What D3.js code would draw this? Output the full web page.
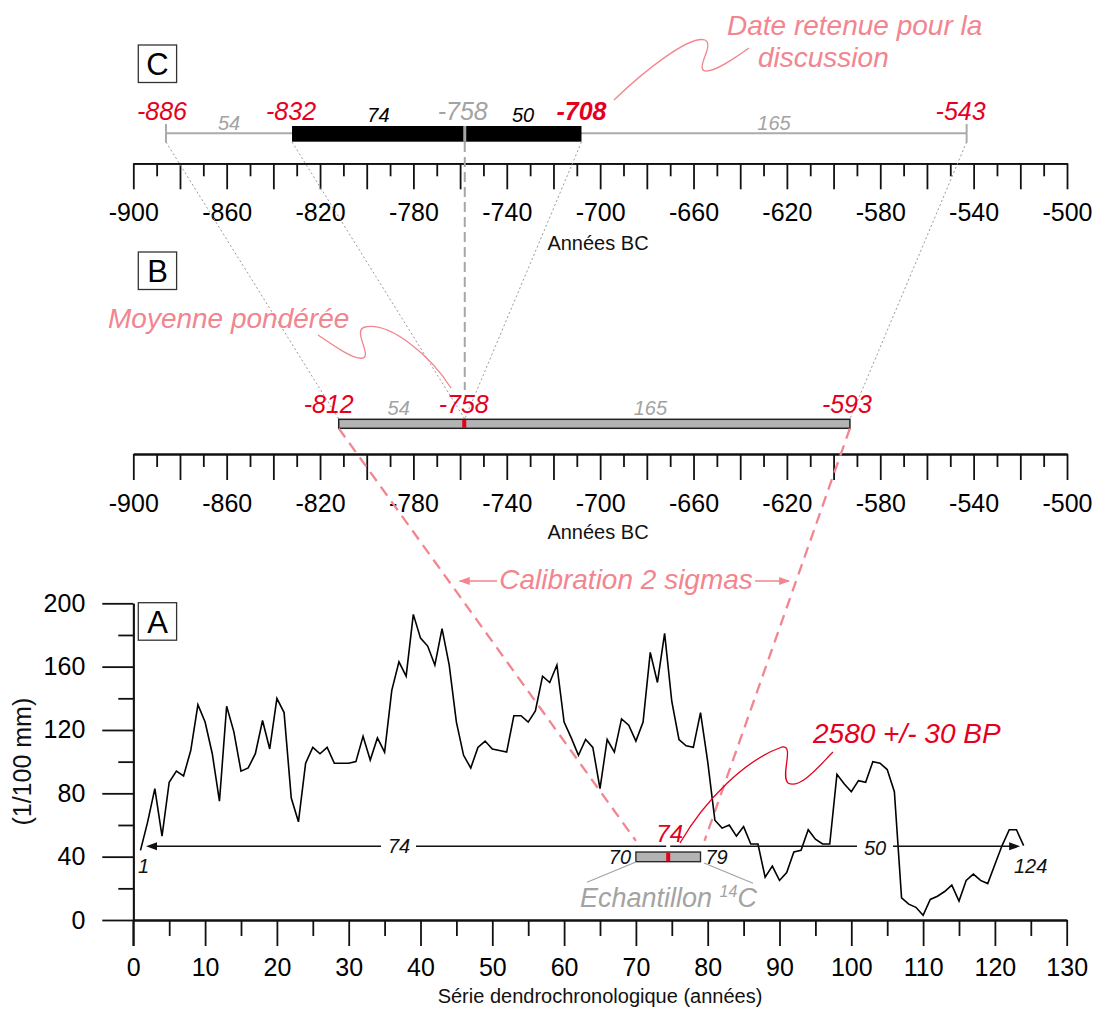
<html>
<head>
<meta charset="utf-8">
<script src="https://d3js.org/d3.v7.min.js"></script>
<style>
body { margin: 0; background: #fff; }
</style>
</head>
<body>
<div id="chart"></div>
<script>
// ring widths (1/100 mm) for rings 1..124 of the series
const ringWidths = [44,62,83,53,87,94,91,107,136,125,
  105,75,135,119,94,96,105,126,108,140,
  131,77,62,99,109,105,109,99,99,99,
  100,116,101,115,106,145,163,154,193,178,
  173,161,184,161,125,104,96,109,113,108,
  107,106,129,129,125,132,154,150,161,125,
  115,104,114,109,83,114,106,127,123,113,
  125,169,150,181,138,114,110,109,131,100,
  63,58,60,53,59,48,48,27,34,25,
  30,43,44,57,51,48,48,92,86,81,
  88,87,100,99,95,81,14,10,8,3,
  13,15,18,22,12,25,29,25,23,35,
  47,57,57,47];

const yearDomain = [-900, -500];
const cDates = [-886, -832, -758, -708, -543];   // C: range, retained range, mean
const cSpans = [54, 74, 50, 165];
const bDates = [-812, -758, -593];               // B: 2 sigma calibration + mean
const bSpans = [54, 165];
const seriesEnds = [1, 124];
const sampleRings = [70, 79];
const dateRing = 74;
const ringCounts = [74, 50];
const ringTicks = d3.range(0, 131, 10);
const widthTicks = d3.range(0, 201, 40);

const W = 1097, H = 1012;
const font = '"Liberation Sans", Arial, sans-serif';
const red = "#e6001e", pink = "#f2858f", grey = "#a3a3a3";
const noteSize = 28;

const svg = d3.select("#chart").append("svg")
  .attr("width", W).attr("height", H)
  .style("font-family", font);

const xTime = d3.scaleLinear().domain(yearDomain).range([133.3, 1067]);
const xRing = d3.scaleLinear().domain([0, 130]).range([133.3, 1066.7]);
const yRing = d3.scaleLinear().domain([0, 200]).range([920, 603.3]);

function txt(x, y, s, size, color, anchor, italic, bold) {
  return svg.append("text").attr("x", x).attr("y", y).text(s)
    .attr("font-size", size).attr("fill", color || "#000")
    .attr("text-anchor", anchor || "middle")
    .attr("font-style", italic ? "italic" : "normal")
    .attr("font-weight", bold ? "bold" : "normal");
}
function seg(x1, y1, x2, y2, color, w, dash) {
  return svg.append("line").attr("x1", x1).attr("y1", y1).attr("x2", x2).attr("y2", y2)
    .attr("stroke", color).attr("stroke-width", w).attr("stroke-dasharray", dash || null);
}
function arrowHead(x, y, dir, color) {
  svg.append("path")
    .attr("d", `M${x},${y}L${x - dir * 11},${y - 4}L${x - dir * 11},${y + 4}Z`)
    .attr("fill", color);
}
function styleAxis(g) {
  g.attr("font-size", 25).attr("font-family", font);
  g.selectAll("line").attr("stroke", "#111").attr("stroke-width", 1.8);
  g.selectAll("path").attr("stroke", "#111").attr("stroke-width", 1.8);
}

// boxes A B C
[["C", 45], ["B", 252], ["A", 602.7]].forEach(b => {
  svg.append("rect").attr("x", 138.3).attr("y", b[1]).attr("width", 38.3).attr("height", 37.5)
    .attr("fill", "#fff").attr("stroke", "#333").attr("stroke-width", 1.3);
  txt(157.5, b[1] + 30, b[0], 31, "#000");
});

// year axes (C and B)
function yearAxis(y, titleY) {
  const g1 = svg.append("g").attr("transform", `translate(0,${y})`)
    .call(d3.axisBottom(xTime).tickValues(d3.range(-890, -500, 20)).tickSize(13).tickSizeOuter(0).tickFormat(""));
  const g2 = svg.append("g").attr("transform", `translate(0,${y})`)
    .call(d3.axisBottom(xTime).tickValues(d3.range(-900, -499, 20)).tickSize(26).tickSizeOuter(0).tickPadding(14)
      .tickFormat(d => (d + 900) % 40 === 0 ? String(d) : ""));
  styleAxis(g1); styleAxis(g2);
  txt(598, titleY, "Années BC", 20, "#111");
}
yearAxis(163.3, 250);
yearAxis(454, 538.5);

// ---- C: retained date
const cy = 133.3;
seg(xTime(cDates[0]), cy, xTime(cDates[4]), cy, "#ababab", 2);
[cDates[0], cDates[4]].forEach(d => seg(xTime(d), 124, xTime(d), 142.7, "#ababab", 2));
svg.append("rect").attr("x", xTime(cDates[1])).attr("y", 126)
  .attr("width", xTime(cDates[3]) - xTime(cDates[1])).attr("height", 15.7).attr("fill", "#000");
seg(xTime(cDates[2]), 126, xTime(cDates[2]), 141.7, "#a6a6a6", 3);

// dotted links C -> B
[[cDates[0], bDates[0]], [cDates[1], bDates[1]], [cDates[3], bDates[1]], [cDates[4], bDates[2]]].forEach(p => {
  seg(xTime(p[0]), 142, xTime(p[1]), 419, "#9a9a9a", 1, "2,2.5");
});
// mean, dashed grey
seg(xTime(cDates[2]), 142, xTime(cDates[2]), 390, "#a6a6a6", 2, "10,5");

const cDx = [-4, -1, -2, 0, -6];
cDates.forEach((d, i) => {
  const isMean = i === 2;
  txt(xTime(d) + cDx[i], 120, String(d), 25, isMean ? grey : red, "middle", true, i === 3);
});
cSpans.forEach((s, i) => {
  const mid = (cDates[i] + cDates[i + 1]) / 2;
  const col = (i === 1 || i === 2) ? "#000" : grey;
  txt(xTime(mid), (i === 1 || i === 2) ? 121.7 : 130, String(s), 20, col, "middle", true);
});

// "Date retenue" annotation
txt(727, 35, "Date retenue pour la", noteSize, pink, "start", true);
txt(758, 67, "discussion", noteSize, pink, "start", true);
svg.append("path")
  .attr("d", "M614,100 C645,70 690,35 705,40 C715,45 695,68 705,71 C715,72 735,58 749,48")
  .attr("fill", "none").attr("stroke", pink).attr("stroke-width", 1.3);

// ---- B: calibration
svg.append("rect").attr("x", xTime(bDates[0])).attr("y", 419.3)
  .attr("width", xTime(bDates[2]) - xTime(bDates[0])).attr("height", 9)
  .attr("fill", "#b3b3b3").attr("stroke", "#222").attr("stroke-width", 1.5);
svg.append("rect").attr("x", xTime(bDates[1]) - 2.5).attr("y", 420).attr("width", 4).attr("height", 8)
  .attr("fill", red);
const bDx = [-10, -1, -3];
bDates.forEach((d, i) => txt(xTime(d) + bDx[i], 412.7, String(d), 25, red, "middle", true));
bSpans.forEach((s, i) => {
  const mid = (bDates[i] + bDates[i + 1]) / 2;
  txt(xTime(mid) + (i ? -7 : -3), 415, String(s), 20, grey, "middle", true);
});

txt(108, 328, "Moyenne pondérée", noteSize, pink, "start", true);
svg.append("path")
  .attr("d", "M318,335 C340,350 355,360 363,358 C372,355 352,330 365,327 C390,322 430,355 451,388")
  .attr("fill", "none").attr("stroke", pink).attr("stroke-width", 1.3);

// pink dashed calibration lines B -> A
const calL = [[xTime(bDates[0]), 428.3], [xRing(sampleRings[0]), yRing(50)]];
const calR = [[xTime(bDates[2]), 428.3], [xRing(sampleRings[1]) + 4, yRing(50)]];
[calL, calR].forEach(l => seg(l[0][0], l[0][1], l[1][0], l[1][1], pink, 2.3, "11,7"));
function along(l, y) {
  const t = (y - l[0][1]) / (l[1][1] - l[0][1]);
  return l[0][0] + t * (l[1][0] - l[0][0]);
}
const calY = 581;
txt(626, 589, "Calibration 2 sigmas", noteSize, pink, "middle", true);
seg(along(calL, calY) + 11, calY, 497, calY, pink, 1.6);
arrowHead(along(calL, calY) + 10, calY, -1, pink);
seg(755, calY, along(calR, calY) - 7, calY, pink, 1.6);
arrowHead(along(calR, calY) - 6, calY, 1, pink);

// ---- A: ring width series
const gx1 = svg.append("g").attr("transform", "translate(0,920)")
  .call(d3.axisBottom(xRing).tickValues(d3.range(5, 130, 10)).tickSize(16).tickSizeOuter(0).tickFormat(""));
const gx2 = svg.append("g").attr("transform", "translate(0,920)")
  .call(d3.axisBottom(xRing).tickValues(ringTicks).tickSize(26).tickSizeOuter(0).tickPadding(12).tickFormat(d => String(d)));
const gy1 = svg.append("g").attr("transform", "translate(133.3,0)")
  .call(d3.axisLeft(yRing).tickValues([20, 60, 100, 140, 180]).tickSize(15).tickSizeOuter(0).tickFormat(""));
const gy2 = svg.append("g").attr("transform", "translate(133.3,0)")
  .call(d3.axisLeft(yRing).tickValues(widthTicks).tickSize(31).tickSizeOuter(0).tickPadding(17).tickFormat(d => String(d)));
[gx1, gx2, gy1, gy2].forEach(styleAxis);
// extend the y axis line down to the x tick length
seg(133.3, 920, 133.3, 946, "#111", 1.8);

txt(600, 1003, "Série dendrochronologique (années)", 20, "#111");
svg.append("text").attr("transform", `translate(31,${yRing(100)}) rotate(-90)`)
  .attr("text-anchor", "middle").attr("font-size", 25).attr("fill", "#111").text("(1/100 mm)");

svg.append("path").datum(ringWidths)
  .attr("d", d3.line().x((d, i) => xRing(i + 1)).y(d => yRing(d)))
  .attr("fill", "none").attr("stroke", "#000").attr("stroke-width", 1.6).attr("stroke-linejoin", "miter");

// ring count arrow
const ay = yRing(46.5);
const aL = xRing(seriesEnds[0]) + 5.5, aR = xRing(seriesEnds[1]) - 3.5;
const gaps = [[381, 416], [xRing(dateRing + 0.5) - 2, xRing(dateRing + 0.5) + 2], [857, 893]];
let from = aL + 8;
gaps.forEach(g => { seg(from, ay, g[0], ay, "#111", 1.5); from = g[1]; });
seg(from, ay, aR - 8, ay, "#111", 1.5);
arrowHead(aL, ay, -1, "#111");
arrowHead(aR, ay, 1, "#111");
txt(399, 853.3, String(ringCounts[0]), 20, "#111", "middle", true);
txt(875, 855, String(ringCounts[1]), 20, "#111", "middle", true);
txt(xRing(seriesEnds[0]) + 3, 873, String(seriesEnds[0]), 20, "#111", "middle", true);
txt(xRing(seriesEnds[1]) + 7, 873.3, String(seriesEnds[1]), 20, "#111", "middle", true);

// 14C sample
svg.append("rect").attr("x", xRing(sampleRings[0])).attr("y", 852)
  .attr("width", xRing(sampleRings[1]) - xRing(sampleRings[0])).attr("height", 9.7)
  .attr("fill", "#b3b3b3").attr("stroke", "#222").attr("stroke-width", 1.3);
svg.append("rect").attr("x", xRing(dateRing + 0.5) - 2).attr("y", 852.5).attr("width", 4).attr("height", 8.7)
  .attr("fill", red);
txt(xRing(sampleRings[0]) - 16, 864.3, String(sampleRings[0]), 20, "#111", "middle", true);
txt(xRing(sampleRings[1]) + 16, 864.3, String(sampleRings[1]), 20, "#111", "middle", true);
txt(xRing(dateRing + 0.5) + 1.5, 841.7, String(dateRing), 24, red, "middle", true);
seg(xRing(sampleRings[0]), 862, 587, 882.3, grey, 1.2);
seg(xRing(sampleRings[1]) + 3.5, 863, 753, 883.3, grey, 1.2);
const ech = txt(580, 906.7, "Echantillon ", 27, grey, "start", true);
ech.append("tspan").attr("font-size", 16).attr("dy", -10).text("14");
ech.append("tspan").attr("dy", 10).text("C");

// radiocarbon date
txt(813, 743.3, "2580 +/- 30 BP", noteSize, red, "start", true);
svg.append("path")
  .attr("d", "M680,843 C705,800 745,760 782,747 C795,745 780,775 788,783 C800,790 820,765 833,752")
  .attr("fill", "none").attr("stroke", red).attr("stroke-width", 1.3);
</script>
</body>
</html>
